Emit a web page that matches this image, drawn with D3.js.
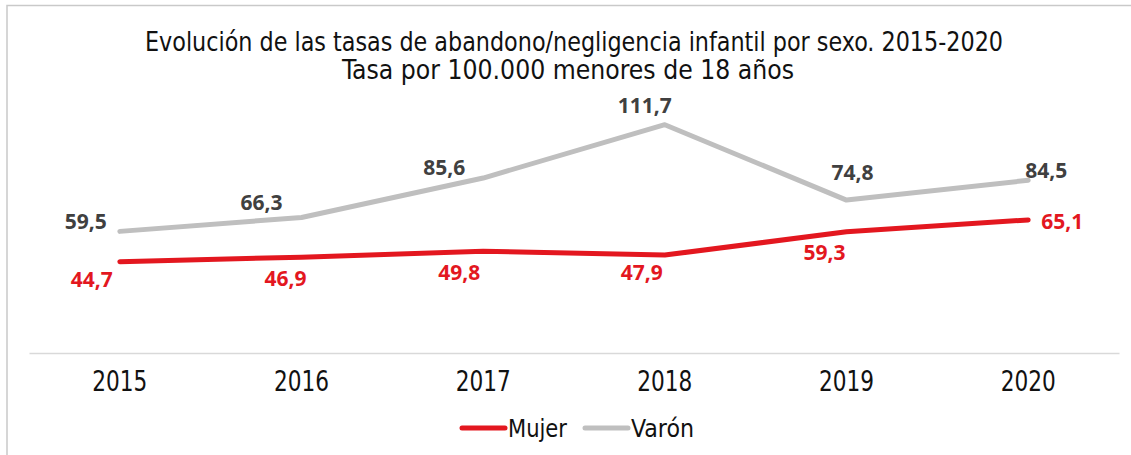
<!DOCTYPE html>
<html lang="es">
  <head>
    <meta charset="UTF-8" />
    <title>Tasas de abandono/negligencia infantil por sexo</title>
    <script src="https://d3js.org/d3.v7.min.js"></script>
    <style>
      html, body { margin: 0; padding: 0; background: #fff; }
      .cond { font-family: "Liberation Sans Narrow", "DejaVu Sans Condensed", sans-serif; }
      .val { font-family: "Open Sans", "Liberation Sans", sans-serif; font-weight: bold; }
    </style>
  </head>
  <body>
    <div id="chart"></div>
    <script>
      // data
      const years = ["2015", "2016", "2017", "2018", "2019", "2020"];
      const mujer = [44.7, 46.9, 49.8, 47.9, 59.3, 65.1];
      const varon = [59.5, 66.3, 85.6, 111.7, 74.8, 84.5];
      const seriesNames = ["Mujer", "Varón"];

      // label nudges (layout only), in px from each point
      const mujerLabelOffset = [[-28, 18], [-16, 21], [-24, 21], [-23, 17], [-22, 21], [34, 2]];
      const varonLabelOffset = [[-34, -10], [-40, -15], [-39, -11], [-20, -19], [6, -28], [18, -10]];

      const W = 1131, H = 455;
      const RED = "#e3171f", GREY = "#bfbfbf";

      const svg = d3.select("#chart").append("svg")
        .attr("width", W).attr("height", H);

      // frame (only top/left visible in the crop)
      svg.append("rect")
        .attr("x", 7).attr("y", 5.5)
        .attr("width", W + 20).attr("height", H + 20)
        .attr("fill", "none").attr("stroke", "#c9c9c9").attr("stroke-width", 1.5);

      const x = d3.scaleBand().domain(years).range([29, 1119]);
      const y = d3.scaleLinear().domain([0, 140]).range([353, 353 - 140 * 2.044]);
      const cx = (d) => x(d) + x.bandwidth() / 2;

      // title - squeezed a bit, the original face is condensed
      const title = svg.append("g").attr("class", "cond")
        .attr("font-size", 27).attr("fill", "#111");
      title.append("text").attr("x", 574).attr("y", 51)
        .attr("text-anchor", "middle")
        .attr("textLength", 858).attr("lengthAdjust", "spacingAndGlyphs")
        .text("Evolución de las tasas de abandono/negligencia infantil por sexo. 2015-2020");
      title.append("text").attr("x", 568).attr("y", 79)
        .attr("text-anchor", "middle")
        .attr("textLength", 452).attr("lengthAdjust", "spacingAndGlyphs")
        .text("Tasa por 100.000 menores de 18 años");

      // x axis
      const xAxis = svg.append("g").attr("transform", `translate(0,${y(0)})`)
        .call(d3.axisBottom(x).tickSize(0).tickPadding(18));
      xAxis.select(".domain").attr("stroke", "#d9d9d9").attr("stroke-width", 1.5);
      xAxis.selectAll("text").attr("class", "cond")
        .attr("font-size", 28).attr("fill", "#111").attr("dy", "0.71em")
        .attr("textLength", 55).attr("lengthAdjust", "spacingAndGlyphs");

      const line = d3.line().x((d, i) => cx(years[i])).y((d) => y(d));

      function drawSeries(values, color, offsets, labelColor) {
        svg.append("path").datum(values)
          .attr("fill", "none").attr("stroke", color)
          .attr("stroke-width", 5).attr("stroke-linejoin", "round")
          .attr("stroke-linecap", "round")
          .attr("d", line);

        svg.selectAll(null).data(values).enter().append("text")
          .attr("class", "val")
          .attr("x", (d, i) => cx(years[i]) + offsets[i][0])
          .attr("y", (d, i) => y(d) + offsets[i][1])
          .attr("dy", "0.36em")
          .attr("text-anchor", "middle")
          .attr("font-size", 21)
          .attr("fill", labelColor)
          .text((d) => d3.format(".1f")(d).replace(".", ","));
      }

      drawSeries(varon, GREY, varonLabelOffset, "#404040");
      drawSeries(mujer, RED, mujerLabelOffset, RED);

      // legend
      const legend = svg.append("g").attr("transform", "translate(462,428)");
      const items = [
        { name: seriesNames[0], color: RED, x: 0, w: 59 },
        { name: seriesNames[1], color: GREY, x: 123, w: 63 }
      ];
      items.forEach((it) => {
        legend.append("line")
          .attr("x1", it.x).attr("x2", it.x + 43)
          .attr("stroke", it.color).attr("stroke-width", 5)
          .attr("stroke-linecap", "round");
        legend.append("text").attr("class", "cond")
          .attr("x", it.x + 46).attr("y", 0).attr("dy", "0.35em")
          .attr("font-size", 25).attr("fill", "#111")
          .attr("textLength", it.w).attr("lengthAdjust", "spacingAndGlyphs")
          .text(it.name);
      });
    </script>
  </body>
</html>
